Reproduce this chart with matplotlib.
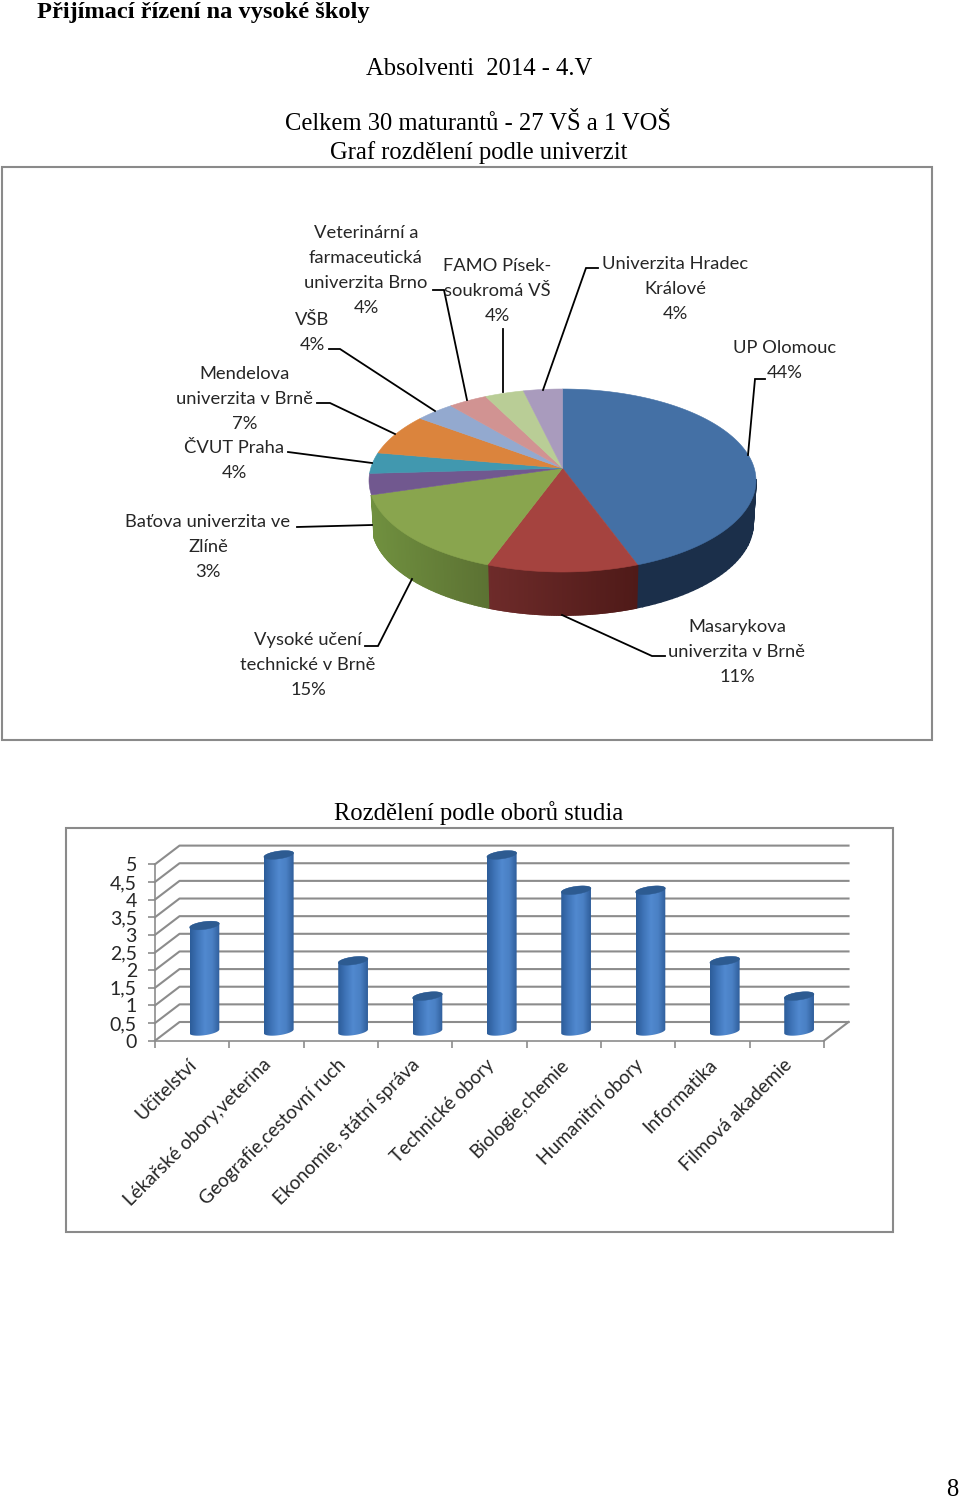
import numpy as np
import matplotlib
matplotlib.use('Agg')
import matplotlib.pyplot as plt
from matplotlib.colors import LinearSegmentedColormap, to_rgb
from matplotlib.patches import Polygon, Rectangle
from matplotlib.transforms import ScaledTranslation

# pie data - number of students per school, 27 in total
schools = ['UP Olomouc', 'Masarykova univerzita v Brně', 'Vysoké učení technické v Brně',
           'Baťova univerzita ve Zlíně', 'ČVUT Praha', 'Mendelova univerzita v Brně', 'VŠB',
           'Veterinární a farmaceutická univerzita Brno', 'FAMO Písek-soukromá VŠ', 'Univerzita Hradec Králové']
counts = [12, 3, 4, 1, 1, 2, 1, 1, 1, 1]
percents = ['44%', '11%', '15%', '3%', '4%', '7%', '4%', '4%', '4%', '4%']

# bar data
fields = ['Učitelství', 'Lékařské obory,veterina', 'Geografie,cestovní ruch', 'Ekonomie, státní správa',
          'Technické obory', 'Biologie,chemie', 'Humanitní obory', 'Informatika', 'Filmová akademie']
field_counts = [3, 5, 2, 1, 5, 4, 4, 2, 1]
y_ticks = [0, 0.5, 1, 1.5, 2, 2.5, 3, 3.5, 4, 4.5, 5]
y_tick_labels = ['0', '0,5', '1', '1,5', '2', '2,5', '3', '3,5', '4', '4,5', '5']

W, H = 960, 1499
pie_colors = ['#4470a5', '#a5433f', '#89a54e', '#71588f', '#4198af', '#db843d',
              '#93a9cf', '#d19392', '#b9cd96', '#a99bbd']
# only the front slices show their side, colours go left to right on the wall
wall_colors = {0: ('#1b2f4a', '#1b2f4a'), 1: ('#6e2b2a', '#4f1a18'), 2: ('#70903f', '#5c7233')}
GRID = '#8c8c8c'
TEXT = '#262626'


def px_axes(left, top, right, bottom):
    a = fig.add_axes([left / W, 1 - bottom / H, (right - left) / W, (bottom - top) / H])
    return a


fig = plt.figure(figsize=(W / 100, H / 100), dpi=100, facecolor='white')

# overlay in pixels, for page text, frames and leader lines
page = px_axes(0, 0, W, H)
page.set_xlim(0, W)
page.set_ylim(H, 0)
page.axis('off')
page.set_zorder(5)
page.patch.set_alpha(0)

page.add_patch(Rectangle((2, 167), 930, 573, fill=False, ec='#8a8a8a', lw=1.5))
page.add_patch(Rectangle((66, 828), 827, 404, fill=False, ec='#8a8a8a', lw=1.5))

serif = 'Liberation Serif'
page.text(37, 12, 'Přijímací řízení na vysoké školy', family=serif, weight='bold', fontsize=17.6, va='center', color='black')
page.text(479, 69, 'Absolventi  2014 - 4.V', family=serif, fontsize=17.7, ha='center', va='center', color='black')
page.text(478, 124, 'Celkem 30 maturantů - 27 VŠ a 1 VOŠ', family=serif, fontsize=17.7, ha='center', va='center', color='black')
page.text(479, 153, 'Graf rozdělení podle univerzit', family=serif, fontsize=17.7, ha='center', va='center', color='black')
page.text(479, 813, 'Rozdělení podle oborů studia', family=serif, fontsize=17.7, ha='center', va='center', color='black')
page.text(952, 1490, '8', family=serif, fontsize=17.7, ha='center', va='center', color='black')

# ---- pie ----
pie = px_axes(369, 389, 756, 572)
pie.set_xlim(-1, 1)
pie.set_ylim(-1, 1)
pie.axis('off')

tilt = 0.135      # where the pie centre lands, the view is in perspective
depth = 0.47
shrink = 0.985


def view(theta):
    # clockwise from 12 o'clock, circle to the tilted disc
    u, v = np.sin(theta), np.cos(theta)
    d = 1 + tilt * v
    return u * np.sqrt(1 - tilt ** 2) / d, (v + tilt) / d


edges = np.cumsum([0] + counts) / sum(counts) * 2 * np.pi
for i in range(len(counts)):
    if i in wall_colors:
        c0, c1 = [np.array(to_rgb(c)) for c in wall_colors[i]]
        th = np.linspace(edges[i], edges[i + 1], 90)
        x, y = view(th)
        lo, hi = x.min(), x.max()
        for j in range(len(th) - 1):
            if y[j] > 0.01 and y[j + 1] > 0.01:
                continue
            f = (x[j] - lo) / (hi - lo)
            col = c0 * (1 - f) + c1 * f
            pie.add_patch(Polygon([(x[j], y[j]), (x[j + 1], y[j + 1]),
                                   (x[j + 1] * shrink, y[j + 1] - depth), (x[j] * shrink, y[j] - depth)],
                                  fc=col, ec=col, lw=1.2, clip_on=False, zorder=2))
for i in range(len(counts)):
    th = np.linspace(edges[i], edges[i + 1], 120)
    x, y = view(th)
    pie.add_patch(Polygon(np.column_stack([np.r_[0, x], np.r_[tilt, y]]), fc=pie_colors[i], ec=pie_colors[i],
                          lw=0.4, clip_on=False, zorder=3))

# labels, one list of rows per slice, in the slice order
label_rows = [['UP Olomouc'], ['Masarykova', 'univerzita v Brně'], ['Vysoké učení', 'technické v Brně'],
              ['Baťova univerzita ve', 'Zlíně'], ['ČVUT Praha'], ['Mendelova', 'univerzita v Brně'], ['VŠB'],
              ['Veterinární a', 'farmaceutická', 'univerzita Brno'], ['FAMO Písek-', 'soukromá VŠ'],
              ['Univerzita Hradec', 'Králové']]
label_xy = [(785, 348), (737, 627), (308, 640), (208, 522), (234, 448), (245, 374), (312, 320),
            (366, 233), (497, 266), (675, 264)]
leaders = [[(765, 379), (755, 379), (748, 455)], [(665, 656), (652, 656), (562, 615)],
           [(365, 646), (378, 646), (412, 579)], [(297, 527), (372, 525)], [(288, 452), (372, 463)],
           [(317, 403), (330, 403), (395, 434)], [(329, 349), (340, 349), (435, 411)],
           [(433, 290), (444, 290), (467, 400)], [(503, 329), (503, 392)], [(598, 268), (586, 268), (543, 390)]]
for rows, pct, (lx, ly), lead in zip(label_rows, percents, label_xy, leaders):
    for k, row in enumerate(rows + [pct]):
        page.text(lx, ly + k * 25, row, family='Lato', fontsize=13.2, ha='center', va='center', color=TEXT)
    page.plot([p[0] for p in lead], [p[1] for p in lead], color='black', lw=1.3, solid_joinstyle='miter')

# ---- bars ----
ax = px_axes(155, 864.3, 824, 1040.7)
ax.set_xlim(0, 9)
ax.set_ylim(0, 5)
ax.patch.set_alpha(0)
dx, dy = 0.33, 0.53     # depth of the chart box in data units

for v in y_ticks:
    ax.plot([0, dx, 9 + dx], [v, v + dy, v + dy], color=GRID, lw=1.5, clip_on=False, zorder=1)
ax.plot([9, 9 + dx], [0, dy], color=GRID, lw=1.5, clip_on=False, zorder=1)

for s in ['top', 'right']:
    ax.spines[s].set_visible(False)
for s in ['left', 'bottom']:
    ax.spines[s].set_color(GRID)
    ax.spines[s].set_linewidth(1.2)
ax.set_yticks(y_ticks)
ax.set_yticklabels(y_tick_labels, family='Lato', fontsize=14, color=TEXT)
ax.tick_params(axis='y', length=5, color=GRID, width=1.2, pad=8)
ax.set_xticks(np.arange(10))
ax.set_xticklabels([])
ax.tick_params(axis='x', which='major', length=5, color=GRID, width=1.2)
ax.set_xticks(np.arange(9) + 0.5, minor=True)
ax.set_xticklabels(fields, minor=True, family='Lato', fontsize=13.7, color=TEXT, rotation=45,
                   ha='right', va='top', rotation_mode='anchor')
ax.tick_params(axis='x', which='minor', length=0, pad=11)
for lab in ax.get_xticklabels(minor=True):
    lab.set_transform(lab.get_transform() + ScaledTranslation(-4 / 100, 0, fig.dpi_scale_trans))

bar_cmap = LinearSegmentedColormap.from_list('bar', ['#2c5c99', '#3f74b8', '#5189cf', '#4a80c4', '#2f5e9b'])
half_w = 0.2
half_h = 0.11
slant = 0.055
t = np.linspace(0, np.pi, 60)
grad = np.linspace(0, 1, 64).reshape(1, -1)
for i, val in enumerate(field_counts):
    cx = i + 0.5 + dx / 2
    base = dy / 2
    ex = half_w * np.cos(t)
    e_up = half_h * np.sin(t) + slant * np.cos(t)
    e_lo = -half_h * np.sin(t) + slant * np.cos(t)
    body = np.column_stack([np.r_[cx + ex, cx + ex[::-1]],
                            np.r_[base + val + e_up, base + e_lo[::-1]]])
    im = ax.imshow(grad, cmap=bar_cmap, aspect='auto', zorder=4, interpolation='bilinear',
                   extent=(cx - half_w, cx + half_w, base - 0.3, base + val + 0.3))
    im.set_clip_path(Polygon(body, transform=ax.transData))
    im.set_clip_box(fig.bbox)     # the tall bars go above the axes box
    cap = np.column_stack([np.r_[cx + ex, cx + ex[::-1]], np.r_[base + val + e_up, base + val + e_lo[::-1]]])
    ax.add_patch(Polygon(cap, fc='#2d5b91', ec='#2d5b91', lw=0.3, zorder=5, clip_on=False))
ax.set_xlim(0, 9)
ax.set_ylim(0, 5)

fig.savefig('out.png', dpi=100)
